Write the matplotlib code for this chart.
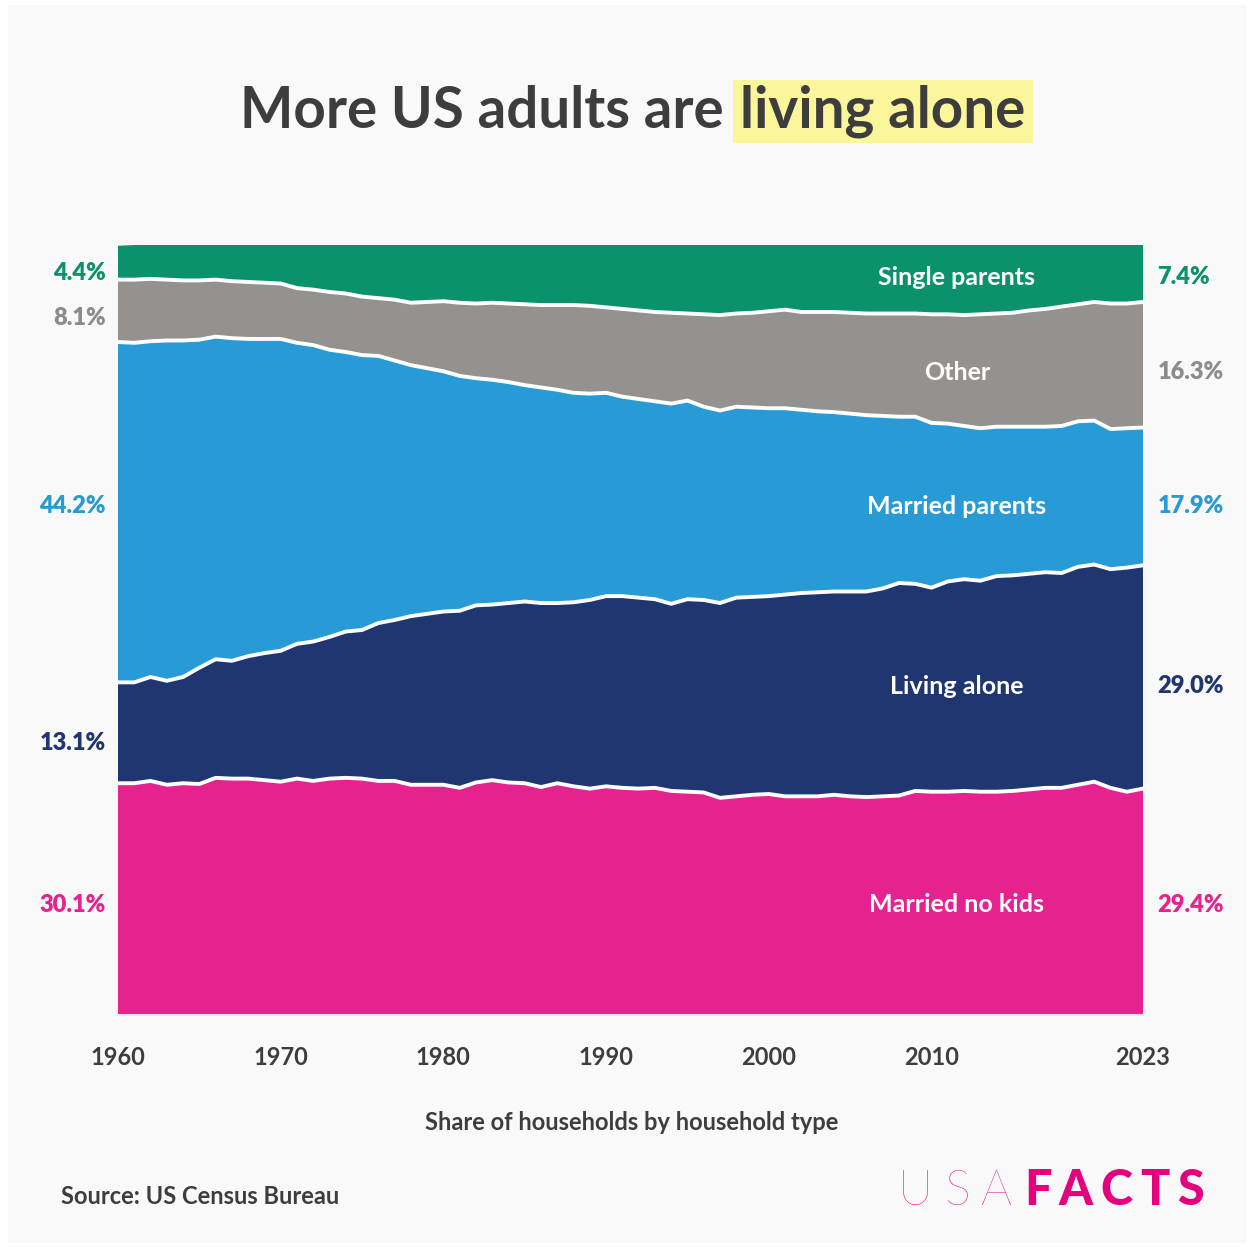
import matplotlib
matplotlib.use("Agg")
import matplotlib.pyplot as plt
import matplotlib.transforms as mtransforms
from matplotlib.patches import Rectangle
import numpy as np

# Share of households by household type, percent
years = list(range(1960, 2024))
married_no_kids = [30.1, 30.1, 30.4, 29.9, 30.1, 30.0, 30.8, 30.7, 30.7, 30.5,
                   30.3, 30.7, 30.4, 30.7, 30.8, 30.7, 30.4, 30.4, 29.9, 29.9,
                   29.9, 29.5, 30.2, 30.5, 30.2, 30.1, 29.6, 30.1, 29.7, 29.4,
                   29.7, 29.5, 29.4, 29.5, 29.1, 29.0, 28.9, 28.2, 28.4, 28.6,
                   28.7, 28.4, 28.4, 28.4, 28.6, 28.4, 28.3, 28.4, 28.5, 29.1,
                   29.0, 29.0, 29.1, 29.0, 29.0, 29.1, 29.3, 29.5, 29.5, 29.9,
                   30.3, 29.5, 29.0, 29.4]
living_alone = [13.1, 13.1, 13.5, 13.5, 13.8, 15.1, 15.4, 15.3, 15.9, 16.5,
                17.0, 17.5, 18.1, 18.4, 19.0, 19.3, 20.5, 20.9, 21.9, 22.2,
                22.5, 23.0, 23.0, 22.8, 23.3, 23.6, 23.9, 23.4, 23.9, 24.5,
                24.7, 24.9, 24.8, 24.5, 24.3, 25.0, 25.0, 25.3, 25.8, 25.7,
                25.7, 26.2, 26.4, 26.5, 26.4, 26.6, 26.7, 27.0, 27.6, 26.9,
                26.5, 27.3, 27.5, 27.4, 28.0, 28.0, 28.0, 28.0, 27.9, 28.3,
                28.2, 28.4, 29.1, 29.0]
married_parents = [44.2, 44.1, 43.6, 44.2, 43.7, 42.6, 41.9, 41.9, 41.2, 40.8,
                   40.5, 39.1, 38.5, 37.3, 36.3, 35.7, 34.7, 33.7, 32.6, 31.9,
                   31.2, 30.5, 29.5, 29.2, 28.7, 28.1, 28.0, 27.7, 27.2, 26.8,
                   26.4, 25.9, 25.8, 25.7, 26.0, 25.8, 25.1, 25.0, 24.8, 24.6,
                   24.4, 24.2, 23.8, 23.5, 23.3, 23.1, 22.9, 22.4, 21.6, 21.7,
                   21.4, 20.5, 19.9, 19.8, 19.4, 19.3, 19.1, 18.9, 19.1, 18.9,
                   18.7, 18.2, 18.1, 17.9]
other = [8.1, 8.2, 8.1, 7.9, 7.8, 7.7, 7.4, 7.4, 7.4, 7.3,
         7.2, 7.1, 7.2, 7.5, 7.6, 7.6, 7.5, 7.9, 8.1, 8.6,
         9.1, 9.5, 9.7, 10.0, 10.2, 10.5, 10.7, 11.0, 11.4, 11.4,
         11.1, 11.4, 11.5, 11.6, 11.8, 11.3, 12.0, 12.4, 12.1, 12.3,
         12.6, 12.8, 12.7, 12.9, 13.0, 13.1, 13.2, 13.3, 13.4, 13.4,
         14.1, 14.2, 14.4, 14.8, 14.7, 14.8, 15.1, 15.3, 15.5, 15.2,
         15.4, 16.3, 16.2, 16.3]
single_parents = [4.4, 4.5, 4.4, 4.5, 4.6, 4.6, 4.5, 4.7, 4.8, 4.9,
                  5.0, 5.6, 5.8, 6.1, 6.3, 6.7, 6.9, 7.1, 7.5, 7.4,
                  7.3, 7.5, 7.6, 7.5, 7.6, 7.7, 7.8, 7.8, 7.8, 7.9,
                  8.1, 8.3, 8.5, 8.7, 8.8, 8.9, 9.0, 9.1, 8.9, 8.8,
                  8.6, 8.4, 8.7, 8.7, 8.7, 8.8, 8.9, 8.9, 8.9, 8.9,
                  9.0, 9.0, 9.1, 9.0, 8.9, 8.8, 8.5, 8.3, 8.0, 7.7,
                  7.4, 7.8, 7.6, 7.4]

categories = ["Married no kids", "Living alone", "Married parents", "Other", "Single parents"]
series = [married_no_kids, living_alone, married_parents, other, single_parents]
fills = ["#e6228f", "#1f3670", "#289ad6", "#95918f", "#0b926c"]
text_cols = ["#e6228f", "#1f3670", "#289ad6", "#8f8b8a", "#0b926c"]
xticks = [1960, 1970, 1980, 1990, 2000, 2010, 2023]

# label heights (percent units) for the left / right / in-chart labels
left_label_y = [14.3, 35.3, 66.1, 90.5, 96.4]
right_label_y = [14.3, 42.7, 66.1, 83.5, 95.8]

W, H = 1250, 1247
FONT = "Lato"
DARK = "#3d3d3d"

fig = plt.figure(figsize=(W / 100, H / 100), dpi=100)
fig.patch.set_facecolor("white")
fig.patches.append(Rectangle((8 / W, 4 / H), 1238 / W, 1238 / H, transform=fig.transFigure,
                             facecolor="#f9f9f9", edgecolor="none", zorder=-5))

ax = fig.add_axes([118 / W, 1 - 1015 / H, 1025 / W, 770 / H])
ax.set_facecolor("#f9f9f9")
ax.stackplot(years, *series, colors=fills, linewidth=0)
tops = np.cumsum(series, axis=0)
for row in tops[:-1]:
    ax.plot(years, row, color="white", lw=2.8, solid_joinstyle="round")
ax.set_xlim(1960, 2023)
ax.set_ylim(0, 100)
for s in ["top", "left", "right"]:
    ax.spines[s].set_visible(False)
ax.spines["bottom"].set_color("#e6e6e6")
ax.spines["bottom"].set_linewidth(1.5)
ax.set_yticks([])
ax.set_xticks(xticks)
ax.set_xticklabels([str(x) for x in xticks], fontsize=17, fontweight="bold",
                   color=DARK, family=FONT)
ax.tick_params(axis="x", length=0, pad=22)

tr = mtransforms.blended_transform_factory(ax.transAxes, ax.transData)
for i, name in enumerate(categories):
    first = series[i][0]
    last = series[i][-1]
    ax.text(-0.012, left_label_y[i], f"{first:.1f}%", transform=tr, ha="right", va="center",
            fontsize=17, fontweight="heavy", color=text_cols[i], family=FONT)
    ax.text(1.014, right_label_y[i], f"{last:.1f}%", transform=tr, ha="left", va="center",
            fontsize=17, fontweight="heavy", color=text_cols[i], family=FONT)
    ax.text(0.8185, right_label_y[i], name, transform=tr, ha="center", va="center",
            fontsize=18, fontweight="bold", color="white", family=FONT)

# title with highlighted part
r = fig.canvas.get_renderer()
base = 1 - 128 / H
t1 = fig.text(0, base, "More US adults are", fontsize=40.7, fontweight="bold",
              color=DARK, family=FONT, va="baseline")
t2 = fig.text(0, base, "living alone", fontsize=40.7, fontweight="bold",
              color=DARK, family=FONT, va="baseline", zorder=3)
w1 = t1.get_window_extent(r).width
w2 = t2.get_window_extent(r).width
gap = 17
x0 = 632.5 - (w1 + gap + w2) / 2
t1.set_x(x0 / W)
x2 = x0 + w1 + gap
t2.set_x(x2 / W)
fig.patches.append(Rectangle(((x2 - 7) / W, 1 - 143 / H), (w2 + 15) / W, 63 / H,
                             transform=fig.transFigure, facecolor="#fbf59b",
                             edgecolor="none", zorder=-1))

fig.text(632 / W, 1 - 1122 / H, "Share of households by household type", ha="center",
         va="center", fontsize=17, fontweight="bold", color=DARK, family=FONT)
fig.text(61 / W, 1 - 1196 / H, "Source: US Census Bureau", ha="left", va="center",
         fontsize=17, fontweight="bold", color=DARK, family=FONT)


def tracked(x, y, s, track, **kw):
    for ch in s:
        t = fig.text(x / W, 1 - y / H, ch, ha="left", va="baseline", **kw)
        x += t.get_window_extent(r).width + track
    return x


pink = "#e5007e"
xe = tracked(898, 1205, "USA", 11, fontsize=35, fontweight="light", color=pink, family=FONT)
tracked(xe + 1, 1205, "FACTS", 7.5, fontsize=35, fontweight="black", color=pink, family=FONT)

fig.savefig("out.png", dpi=100, facecolor=fig.get_facecolor())
